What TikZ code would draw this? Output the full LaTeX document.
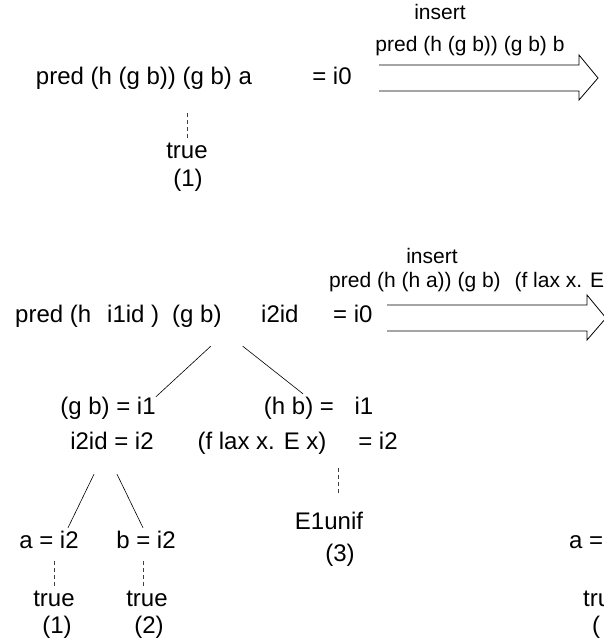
\documentclass[tikz,border=0pt]{standalone}
\usepackage{fontspec}
\setmainfont{Liberation Sans}
\usetikzlibrary{positioning}

\tikzset{
  term/.style={inner sep=0pt, font=\fontsize{24}{28}\selectfont,
    text height=18pt, text depth=6pt},
  lbl/.style={inner sep=0pt, font=\fontsize{21}{25}\selectfont,
    text height=16pt, text depth=5pt},
  branch/.style={line width=0.6pt},
  dashline/.style={line width=0.7pt, black!75, dash pattern=on 4pt off 3pt},
  hollow arrow/.pic={
    \draw[line width=0.8pt] (0,-13) -- (200,-13) -- (200,-23) -- (219,0)
      -- (200,22) -- (200,13) -- (0,13);
  }
}

\begin{document}
\begin{tikzpicture}[x=1pt, y=-1pt]
  \useasboundingbox (0,0) rectangle (604,641);
  \clip (0,0) rectangle (604,641);

  % First step
  \node[term] (goal1) at (144,78) {pred (h (g b)) (g b) a};
  \node[term] (eq1) at (332,78) {= i0};
  \pic at (379,78) {hollow arrow};
  \node[lbl] (ins1) at (440,14) {insert};
  \node[lbl] (new1) at (470,46) {pred (h (g b)) (g b) b};
  \node[term] (true1) at (187,152) {true};
  \node[term] (num1) at (188,180) {(1)};
  \draw[dashline] ([yshift=2pt]true1.north) -- ++(0,-27);

  % Second step
  \node[term, anchor=west] (pred2) at (15,316) {pred (h};
  \node[term, anchor=west] (i1id) at (107,316) {i1id )};
  \node[term, anchor=west] (gb2) at (172,316) {(g b)};
  \node[term, anchor=west] (i2id) at (261,316) {i2id};
  \node[term, anchor=west] (eq2) at (333,316) {= i0};
  \pic at (387,318) {hollow arrow};
  \node[lbl] (ins2) at (432,258) {insert};
  \node[lbl, anchor=west] (new2) at (329,282)
    {pred (h (h a)) (g b)\hspace{8pt} (f lax x. E};

  % Subterms
  \node[term] (gbeq) at (108,408) {(g b) = i1};
  \node[term] (hb) at (299,408) {(h b) =};
  \node[term] (hbi1) at (364,408) {i1};
  \node[term] (i2eq) at (112,443) {i2id = i2};
  \node[term] (flax) at (262,443) {(f lax x. E x)};
  \node[term] (flaxeq) at (378,443) {= i2};
  \node[term] (e1unif) at (329,523) {E1unif};
  \node[term] (num3) at (340,555) {(3)};
  \node[term] (aeq) at (49,542) {a = i2};
  \node[term] (beq) at (146,542) {b = i2};
  \node[term] (truea) at (54,600) {true};
  \node[term] (numa) at (57,627) {(1)};
  \node[term] (trueb) at (147,600) {true};
  \node[term] (numb) at (149,627) {(2)};

  \draw[branch] ([xshift=-11pt,yshift=-18pt]gb2.south east)
    -- ([yshift=-1pt]gbeq.north east);
  \draw[branch] ([xshift=21pt,yshift=-18pt]gb2.south east)
    -- ([xshift=4pt,yshift=2pt]hb.north);
  \draw[branch] ([xshift=-18pt,yshift=-19pt]i2eq.south)
    -- ([xshift=19pt,yshift=2pt]aeq.north);
  \draw[branch] ([xshift=5pt,yshift=-19pt]i2eq.south)
    -- ([xshift=-3pt,yshift=2pt]beq.north);
  \draw[dashline] ([xshift=9pt,yshift=18pt]e1unif.north) -- ++(0,-27);
  \draw[dashline] ([yshift=2pt]truea.north) -- ++(0,-27);
  \draw[dashline] ([xshift=-4pt,yshift=2pt]trueb.north) -- ++(0,-27);

  % Next step, cut at the edge
  \node[term, anchor=west] (aeq3) at (569,542) {a =};
  \node[term, anchor=west] (true3) at (583,600) {tru};
  \node[term, anchor=west] (num3r) at (592,627) {(};
\end{tikzpicture}
\end{document}
